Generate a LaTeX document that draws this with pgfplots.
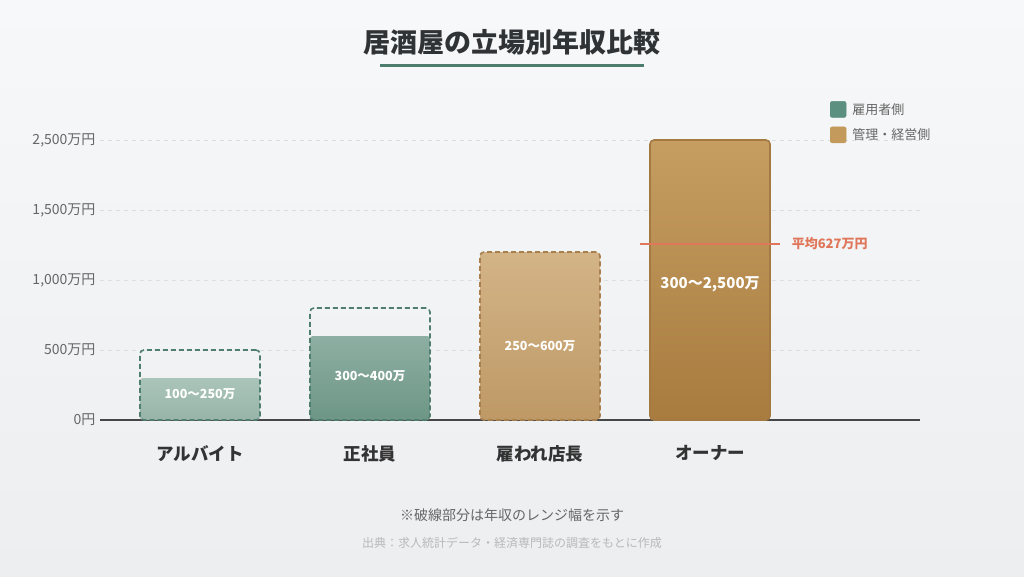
\documentclass[border=0pt]{standalone}
\usepackage{fontspec}
\setmainfont{Noto Sans CJK JP}
\usepackage{pgfplots}
\pgfplotsset{compat=1.18}

\definecolor{bgTop}{HTML}{F7F8F9}
\definecolor{bgBot}{HTML}{ECEEF0}
\definecolor{titleC}{HTML}{2F3336}
\definecolor{greenLine}{HTML}{4D7C6C}
\definecolor{greenDash}{HTML}{4F7E6F}
\definecolor{legGreen}{HTML}{5B8F7F}
\definecolor{legTan}{HTML}{C49A5C}
\definecolor{aruTop}{HTML}{AAC4BA}
\definecolor{aruBot}{HTML}{98B4A9}
\definecolor{seiTop}{HTML}{8EAFA3}
\definecolor{seiBot}{HTML}{6D9686}
\definecolor{tenTop}{HTML}{D3B487}
\definecolor{tenBot}{HTML}{BE9966}
\definecolor{tenDash}{HTML}{A88050}
\definecolor{ownTop}{HTML}{C69E62}
\definecolor{ownBot}{HTML}{A87B3E}
\definecolor{ownEdge}{HTML}{A57A42}
\definecolor{coral}{HTML}{E0765A}
\definecolor{tickC}{HTML}{666666}
\definecolor{catC}{HTML}{333333}
\definecolor{gridC}{HTML}{DCDFE2}

% solid bars (value = drawn height)
\pgfplotstableread{
x y
0 300
}\aru
\pgfplotstableread{
x y
1 600
}\sei
\pgfplotstableread{
x y
2 1200
}\ten
\pgfplotstableread{
x y
3 2000
}\own
% dashed range outlines
\pgfplotstableread{
x y
0 500
1 800
}\rangeG

\begin{document}
\begin{tikzpicture}[x=1pt,y=1pt]
\fill[top color=bgTop, bottom color=bgBot] (0,0) rectangle (1024,576);

% title
\node[font=\fontsize{27}{30}\selectfont\bfseries, text=titleC] at (512,534) {居酒屋の立場別年収比較};
\draw[greenLine, line width=3pt] (380,510) -- (644,510);

\begin{axis}[
    at={(100pt,156pt)}, anchor=south west,
    scale only axis,
    width=820pt, height=320pt,
    xmin=-0.588, xmax=4.235,
    ymin=0, ymax=2286,
    axis x line*=bottom,
    axis y line*=left,
    x axis line style={draw=catC!90, line width=1.6pt, -},
    y axis line style={draw=none},
    xtick={0,1,2,3},
    xticklabels={アルバイト,正社員,雇われ店長,オーナー},
    xticklabel style={font=\fontsize{17.5}{20}\selectfont\bfseries, text=catC, yshift=-22pt},
    major tick length=0pt,
    ytick={0,500,1000,1500,2000},
    yticklabels={0円,500万円,{1,000万円},{1,500万円},{2,500万円}},
    yticklabel style={font=\fontsize{14}{16}\selectfont, text=tickC, xshift=-1pt},
    ymajorgrids,
    grid style={draw=gridC, dash pattern=on 4pt off 4pt, line width=1pt},
    legend style={at={(0.89,1.0)}, anchor=north west, draw=none, fill=none,
        font=\fontsize{13}{15}\selectfont, text=tickC, row sep=7pt,
        inner sep=0pt, nodes={inner sep=3pt}},
    legend cell align=left,
]
\addplot[forget plot, ybar, bar shift=0pt, bar width=120pt, draw=none,
    top color=aruTop, bottom color=aruBot, rounded corners=3pt] table {\aru};
\addplot[forget plot, ybar, bar shift=0pt, bar width=120pt, draw=none,
    top color=seiTop, bottom color=seiBot, rounded corners=3pt] table {\sei};
\addplot[forget plot, ybar, bar shift=0pt, bar width=120pt, draw=tenDash, line width=1.6pt,
    dash pattern=on 5pt off 3pt,
    top color=tenTop, bottom color=tenBot, rounded corners=4pt] table {\ten};
\addplot[forget plot, ybar, bar shift=0pt, bar width=120pt, draw=ownEdge, line width=1.6pt,
    top color=ownTop, bottom color=ownBot, rounded corners=4pt] table {\own};
\addplot[forget plot, ybar, bar shift=0pt, bar width=120pt, draw=greenDash, line width=1.6pt,
    dash pattern=on 5pt off 3pt, fill=none, rounded corners=4pt] table {\rangeG};

% average line
\addplot[forget plot, coral, line width=2.8pt] coordinates {(2.588,1257) (3.412,1257)};
\node[anchor=west, text=coral, font=\fontsize{13}{15}\selectfont\bfseries]
    at (axis cs:3.46,1257) {平均627万円};

% bar labels
\node[text=white, font=\fontsize{12.5}{15}\selectfont\bfseries] at (axis cs:0,186) {100〜250万};
\node[text=white, font=\fontsize{12.5}{15}\selectfont\bfseries] at (axis cs:1,314) {300〜400万};
\node[text=white, font=\fontsize{12.5}{15}\selectfont\bfseries] at (axis cs:2,529) {250〜600万};
\node[text=white, font=\fontsize{15}{18}\selectfont\bfseries] at (axis cs:3,971) {300〜2,500万};

\addlegendimage{legend image code/.code={\fill[legGreen, rounded corners=2pt] (0pt,-8pt) rectangle (16pt,8pt); \path (19pt,0pt);}}
\addlegendentry{雇用者側}
\addlegendimage{legend image code/.code={\fill[legTan, rounded corners=2pt] (0pt,-8pt) rectangle (16pt,8pt); \path (19pt,0pt);}}
\addlegendentry{管理・経営側}
\end{axis}

% notes
\node[text=tickC, font=\fontsize{14}{17}\selectfont] at (512,61) {※破線部分は年収のレンジ幅を示す};
\node[text=gray!55, font=\fontsize{12}{14}\selectfont] at (512,33) {出典：求人統計データ・経済専門誌の調査をもとに作成};

\pgfresetboundingbox
\path (0,0) rectangle (1024,576);
\end{tikzpicture}
\end{document}
